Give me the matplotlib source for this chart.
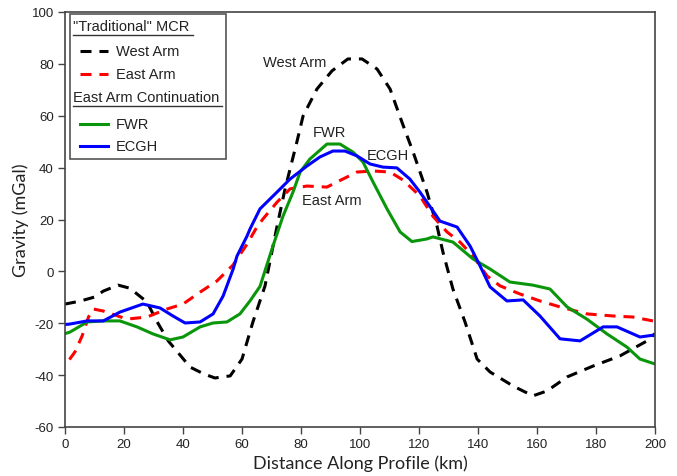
import matplotlib
matplotlib.use("Agg")
import matplotlib.pyplot as plt
from matplotlib.lines import Line2D
from matplotlib.patches import Rectangle

# ---------------- data ----------------
west_x = [0, 5, 10, 13, 18, 22, 27.8, 31, 35, 42.4, 47, 50.8, 56, 60, 63.7, 67.8, 71.9, 74.6,
          78.6, 80.7, 85.4, 90.5, 95.9, 100.7, 105.8, 110.2, 114.2, 118, 122.7, 126.1, 128.1,
          131.5, 135.6, 139.7, 144.1, 151.9, 158.6, 163.4, 170.2, 179, 188.1, 197.3, 200]
west_y = [-12.6, -11.5, -9.9, -7.6, -5.3, -6.5, -11.8, -19, -26.8, -36.9, -39.5, -41.1, -40.3,
          -33.8, -19.5, -5.6, 17.5, 31.8, 49.9, 59.9, 70.3, 77.3, 81.9, 81.9, 78, 70.3, 57.6,
          46, 30.6, 17.5, 7.5, -6.8, -19.5, -33.8, -38.8, -44.2, -48, -46.1, -40.7, -36.5,
          -32.6, -26.8, -24]

east_x = [1.5, 3.4, 5.8, 8, 9.6, 13, 21, 27.8, 34.6, 40, 45.8, 51.5, 57, 61.7, 65, 67.1, 71.9,
          76.3, 82, 88.8, 94.2, 99, 104.4, 110.2, 114.6, 120.3, 124.7, 129.5, 133.9, 138.3,
          143.1, 147.5, 154.2, 161, 167.8, 176.9, 185.8, 192.5, 199.3]
east_y = [-34, -31, -24.9, -17.5, -14.5, -15.3, -18.4, -17.6, -14.5, -12.6, -8, -3.7, 2.5, 10.5,
          17, 20.2, 26.7, 31.8, 32.9, 32.5, 35.6, 38.3, 38.7, 38.3, 35.2, 29.1, 21.3, 15.2,
          11.3, 5.9, -1.8, -5.6, -8.7, -11.4, -13.7, -16.4, -17.2, -17.6, -19.1]

fwr_x = [0, 1.7, 7.5, 13, 18.6, 24.4, 29.8, 35.6, 40, 45.8, 50.2, 54.9, 59.3, 62.7, 66.1, 70.5,
         73.9, 77.3, 79.7, 83, 88.8, 93.2, 97.6, 101, 104.4, 109.2, 113.6, 117.6, 122.7, 124.7,
         131.5, 138.3, 144.1, 150.8, 158.6, 164.4, 170.2, 176.9, 183.7, 190.5, 194.9, 200]
fwr_y = [-24, -23.4, -19.5, -19.1, -19.1, -21.4, -24.1, -26.4, -25.3, -21.4, -19.9, -19.5,
         -16.4, -11.4, -5.8, 9.8, 21.3, 30.6, 38.3, 43.3, 49.1, 49.1, 46, 42.2, 34.5, 24, 15.2,
         11.5, 12.5, 13.3, 11.3, 4.8, 0.9, -4.1, -5.3, -6.8, -13.7, -18.4, -24.1, -29.2, -33.8,
         -35.7]

ecgh_x = [0, 1.7, 7.5, 13, 18.6, 26.4, 32.2, 36.6, 40.7, 45.8, 50.2, 53.6, 57, 58.3, 61.7, 62.7,
          66.1, 71.9, 76.3, 82, 86.4, 90.8, 94.9, 99, 103.4, 107.8, 112.5, 116.9, 120.3, 122.7,
          127.1, 132.9, 137.3, 140.7, 144.1, 149.8, 155.3, 161, 167.8, 174.6, 182.4, 187.1,
          194.9, 200]
ecgh_y = [-20.5, -20.3, -19.1, -19.1, -15.7, -12.6, -14.1, -17.2, -19.9, -19.5, -16.4, -9.5,
          0.9, 5.9, 13.6, 16.3, 24.1, 30.6, 35.6, 40.6, 44.1, 46.4, 46.4, 44.5, 41.4, 40.2, 39.9,
          35.6, 30.6, 26.7, 19.4, 17.1, 9.8, 2.1, -6, -11.4, -11, -17.2, -26, -26.8, -21.4,
          -21.4, -25.3, -24.5]

x_ticks = list(range(0, 201, 20))
y_ticks = list(range(-60, 101, 20))

# ---------------- figure ----------------
W, H = 677, 477
fig = plt.figure(figsize=(W / 100, H / 100), dpi=100)
L, R, T, B = 65, 655, 13, 428
ax = fig.add_axes([L / W, 1 - B / H, (R - L) / W, (B - T) / H])

dash = (0, (3.6, 2.6))
lw = 2.2
ax.plot(west_x, west_y, color="black", lw=lw, linestyle=dash)
ax.plot(east_x, east_y, color="#ff0000", lw=lw, linestyle=dash)
ax.plot(fwr_x, fwr_y, color="#0a960a", lw=lw)
ax.plot(ecgh_x, ecgh_y, color="#0000ff", lw=lw)

ax.set_xlim(0, 200)
ax.set_ylim(-60, 100)
ax.set_xticks(x_ticks)
ax.set_yticks(y_ticks)

tick_font = dict(family="Liberation Sans", size=9.5)
ax.set_xticklabels([str(v) for v in x_ticks], fontdict=tick_font, color="#222222")
ax.set_yticklabels([str(v) for v in y_ticks], fontdict=tick_font, color="#222222")
ax.tick_params(direction="out", length=5, width=1, color="#444444", pad=3)
ax.tick_params(axis="x", top=False)
ax.tick_params(axis="y", right=False)
for s in ax.spines.values():
    s.set_color("#444444")
    s.set_linewidth(1.2)

ax.set_xlabel("Distance Along Profile (km)", family="Lato", fontsize=13, color="#222222", labelpad=3)
ax.set_ylabel("Gravity (mGal)", family="Lato", fontsize=13, color="#222222", labelpad=2)

# annotations
ann_font = dict(family="Liberation Sans", fontsize=10.5, color="#222222")
ax.text(78, 80.7, "West Arm", ha="center", va="center", **ann_font)
ax.text(89.8, 53.7, "FWR", ha="center", va="center", **ann_font)
ax.text(109.3, 44.9, "ECGH", ha="center", va="center", **ann_font)
ax.text(90.5, 27.5, "East Arm", ha="center", va="center", **ann_font)

# ---------------- custom legend ----------------
def fx(px):
    return (px - L) / (R - L)

def fy(py):
    return (B - py) / (B - T)

tr = ax.transAxes
ax.add_patch(Rectangle((fx(70), fy(160)), fx(226) - fx(70), fy(15) - fy(160), transform=tr,
                       fill=True, facecolor="white", edgecolor="#555555", lw=1.2, zorder=5))

leg_font = dict(family="Liberation Sans", fontsize=10.5, color="#222222", zorder=6)
ax.text(fx(73), fy(27), '"Traditional" MCR', transform=tr, ha="left", va="center", **leg_font)
ax.add_line(Line2D([fx(73), fx(193)], [fy(36), fy(36)], transform=tr, color="#333333", lw=1, zorder=6))
ax.text(fx(73), fy(98), "East Arm Continuation", transform=tr, ha="left", va="center", **leg_font)
ax.add_line(Line2D([fx(73), fx(222)], [fy(107), fy(107)], transform=tr, color="#333333", lw=1, zorder=6))

entries = [("West Arm", "black", dash, 52),
           ("East Arm", "#ff0000", dash, 75),
           ("FWR", "#0a960a", "-", 125),
           ("ECGH", "#0000ff", "-", 147)]
for label, col, ls, py in entries:
    ax.add_line(Line2D([fx(80), fx(108)], [fy(py), fy(py)], transform=tr, color=col, lw=lw,
                       linestyle=ls, zorder=6))
    ax.text(fx(116), fy(py), label, transform=tr, ha="left", va="center", **leg_font)

fig.savefig("out.png", dpi=100)
